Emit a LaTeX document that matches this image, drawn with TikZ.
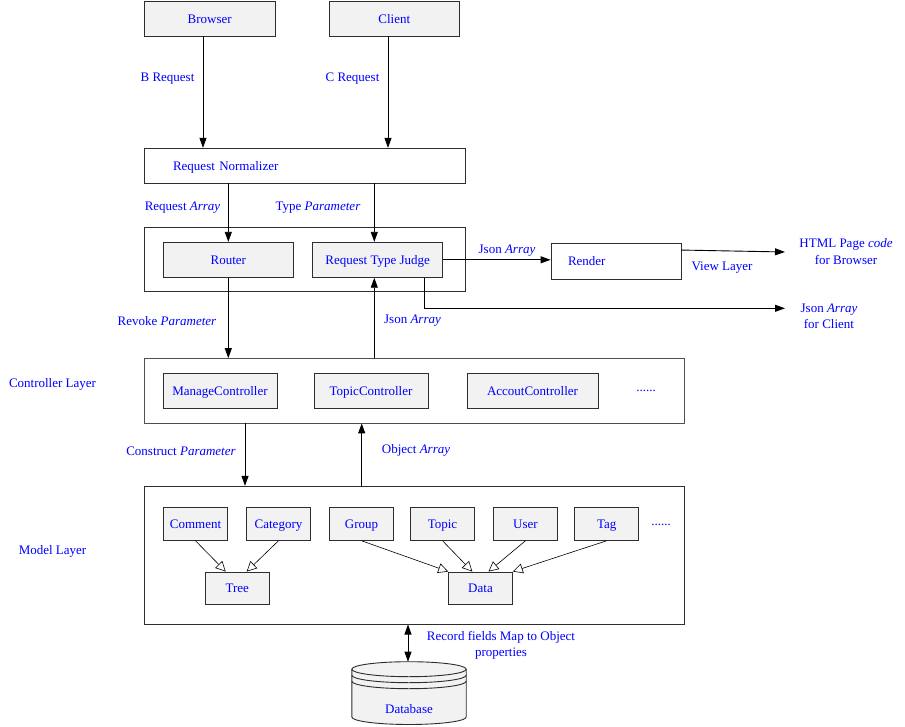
\documentclass[tikz,border=0pt]{standalone}
\usepackage{fontspec}
\setmainfont{Liberation Serif}
\usetikzlibrary{arrows.meta,calc}
\definecolor{boxfill}{RGB}{242,242,242}
\definecolor{txt}{RGB}{0,0,255}
\definecolor{edge}{RGB}{45,45,45}
\definecolor{cedge}{RGB}{80,80,80}
\begin{document}
\begin{tikzpicture}[x=1pt,y=-1pt,
  font=\fontsize{13}{16.5}\selectfont,
  every node/.style={text=txt},
  gbox/.style={draw=edge, fill=boxfill, line width=0.9pt, inner sep=0pt, minimum height=35pt, text height=9.6pt, text depth=0pt},
  mbox/.style={draw=edge, fill=boxfill, line width=0.9pt, inner sep=0pt, minimum width=64.4pt, minimum height=32.6pt, text height=9.6pt, text depth=0pt},
  cont/.style={draw=cedge, fill=white, line width=0.9pt, inner sep=0pt},
  lbl/.style={inner sep=0pt, align=center},
  arr/.style={draw=black, line width=0.9pt, -{Triangle[length=10pt,width=7pt]}},
  darr/.style={draw=black, line width=0.9pt, {Triangle[length=10pt,width=7pt]}-{Triangle[length=10pt,width=7pt]}},
  harr/.style={draw=black, line width=0.6pt, -{Triangle[open,length=10pt,width=10pt,fill=white]}}
]
\useasboundingbox (0,0) rectangle (905,727);

% top boxes
\node[gbox, minimum width=130.5pt] (browser) at (209.7,18.5) {Browser};
\node[gbox, minimum width=130pt] (client) at (394.3,18.5) {Client};
\node[cont, draw=edge, minimum height=34.7pt, inner xsep=28.7pt, text width=263.3pt, align=left, text height=9.6pt, text depth=0pt] (rn) at (304.7,165.7) {Request Normalizer};

% first container
\node[cont, draw=edge, minimum width=321pt, minimum height=64pt] (ctrl1) at (304.9,259.7) {};
\node[gbox, minimum width=130pt] (router) at (228.3,259.8) {Router};
\node[gbox, minimum width=130pt] (judge) at (377.7,259.8) {Request Type Judge};
\node[cont, draw=edge, minimum height=36pt, inner xsep=17pt, text width=96pt, align=left, text height=9.6pt, text depth=0pt] (render) at (616,261) {Render};

% controller layer
\node[cont, minimum width=539.7pt, minimum height=64.3pt] (ctrlLayer) at (414.2,390.8) {};
\node[gbox, minimum width=114pt] (mc) at (220,390.5) {ManageController};
\node[gbox, minimum width=114pt] (tc) at (371,390.5) {TopicController};
\node[gbox, minimum width=131pt] (ac) at (532.5,390.5) {AccoutController};
\node[lbl] (cdots) at (646,390.5) {......};

% model layer
\node[cont, draw=edge, minimum width=539.7pt, minimum height=137.7pt] (model) at (414.2,555.2) {};
\node[mbox] (comment) at (195.5,524) {Comment};
\node[mbox] (category) at (278.5,524) {Category};
\node[mbox] (group) at (361.5,524) {Group};
\node[mbox] (topic) at (442.5,524) {Topic};
\node[mbox] (user) at (525.5,524) {User};
\node[mbox] (tag) at (606.7,524) {Tag};
\node[lbl] (mdots) at (661,524.5) {......};
\node[mbox, minimum height=32pt] (tree) at (237.2,588) {Tree};
\node[mbox, minimum height=32pt, minimum width=63.6pt] (data) at (480.5,588) {Data};

% database cylinder
\filldraw[fill=boxfill, draw=edge, line width=0.9pt]
  (351.8,669.2) -- (351.8,717) arc[start angle=180, end angle=0, x radius=57.2, y radius=7.5]
  -- (466.2,669.2) arc[start angle=0, end angle=-180, x radius=57.2, y radius=7.5] -- cycle;
\draw[draw=edge, line width=0.9pt] (351.8,669.2) arc[start angle=180, end angle=0, x radius=57.2, y radius=7.5];
\draw[draw=edge, line width=0.9pt] (351.8,675.2) arc[start angle=180, end angle=0, x radius=57.2, y radius=7.5];
\draw[draw=edge, line width=0.9pt] (351.8,681.2) arc[start angle=180, end angle=0, x radius=57.2, y radius=7.5];
\node[lbl, text height=9.6pt, text depth=0pt] (db) at (409,709) {Database};
\coordinate (dbtop) at (408,661.7);

% labels
\node[lbl] (lb) at (167.5,79) {B Request};
\node[lbl] (lc) at (352.5,79) {C Request};
\node[lbl] (lra) at (182.5,208) {Request \textit{Array}};
\node[lbl] (ltp) at (318,208) {Type \textit{Parameter}};
\node[lbl] (lja) at (507,251) {Json \textit{Array}};
\node[lbl] (lhtml) at (846,251.5) {HTML Page \textit{code}\\for Browser};
\node[lbl] (lview) at (722,268) {View Layer};
\node[lbl] (ljc) at (829,316.5) {Json \textit{Array}\\for Client};
\node[lbl] (lrp) at (167,321) {Revoke \textit{Parameter}};
\node[lbl] (lju) at (412.5,321) {Json \textit{Array}};
\node[lbl] (lcl) at (52.5,384) {Controller Layer};
\node[lbl] (lcp) at (181,451) {Construct \textit{Parameter}};
\node[lbl] (loa) at (416,450) {Object \textit{Array}};
\node[lbl] (lml) at (52.5,551) {Model Layer};
\node[lbl] (lrec) at (501,645.5) {Record fields Map to Object\\properties};

% connectors
\coordinate (bx) at ($(browser.south)+(-6.7,0)$);
\coordinate (cx) at ($(client.south)+(-6.3,0)$);
\draw[arr] (bx) -- (bx |- rn.north);
\draw[arr] (cx) -- (cx |- rn.north);
\draw[arr] (rn.south -| router.north) -- (router.north);
\coordinate (tpx) at ($(judge.north)+(-3.4,0)$);
\draw[arr] (rn.south -| tpx) -- (tpx);
\draw[arr] (router.south) -- (router.south |- ctrlLayer.north);
\coordinate (jb) at ($(judge.south)+(-3.4,0)$);
\draw[arr] (jb |- ctrlLayer.north) -- (jb);
\coordinate (jc) at ($(judge.south)+(46.5,0)$);
\coordinate (jcend) at (785,308.3);
\draw[arr] (jc) |- (jcend);
\draw[arr] (judge.east) -- (judge.east -| render.west);
\coordinate (rh) at ($(render.north east)+(0,7.5)$);
\coordinate (htmlend) at (785,252);
\draw[arr] (rh) -- (htmlend);
\coordinate (cd) at (245,0);
\coordinate (cu) at (361.7,0);
\draw[arr] (ctrlLayer.south -| cd) -- (model.north -| cd);
\draw[arr] (model.north -| cu) -- (ctrlLayer.south -| cu);
\draw[harr] (comment.south) -- ($(tree.north)+(-11.5,0)$);
\draw[harr] (category.south) -- ($(tree.north)+(9.5,0)$);
\draw[harr] (group.south) -- (data.north west);
\draw[harr] (topic.south) -- ($(data.north)+(-8.2,0)$);
\draw[harr] (user.south) -- ($(data.north)+(8,0)$);
\draw[harr] (tag.south) -- (data.north east);
\draw[darr] (model.south -| dbtop) -- (dbtop);
\end{tikzpicture}
\end{document}
